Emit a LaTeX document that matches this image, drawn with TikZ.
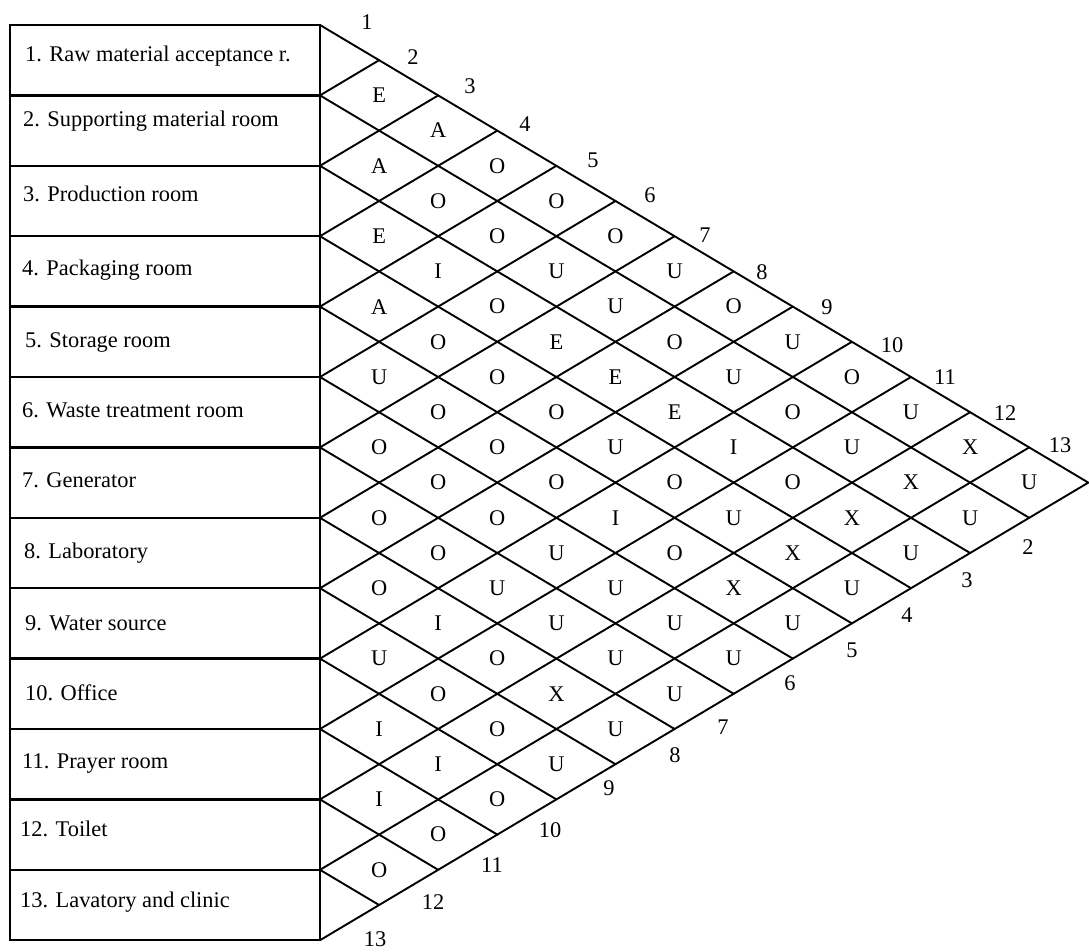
\documentclass[tikz,border=0pt]{standalone}
\usepackage{fontspec}
\setmainfont{Liberation Serif}
\begin{document}
\begin{tikzpicture}[x=1pt,y=-1pt,
  font=\fontsize{22.4}{27}\selectfont,
  grid/.style={line width=1.9pt, line cap=round, line join=miter},
  boxline/.style={draw, line width=2.3pt},
  rel/.style={inner sep=0pt, anchor=center},
  num/.style={inner sep=0pt, anchor=center},
  dept/.style={inner sep=0pt, anchor=base west}]
\useasboundingbox (0,0) rectangle (1089,951);
\foreach \k in {0,...,13} {
  \coordinate (L\k) at (320, 25+70.4*\k);
  \coordinate (T\k) at (320+59.1*\k, 25+35.2*\k);
  \coordinate (B\k) at (320+59.1*\k, 940.2-35.2*\k);
}
% department boxes
\foreach \k in {0,...,12} {
  \pgfmathtruncatemacro\n{\k+1}
  \draw[boxline] (10, 25+70.4*\k) rectangle (L\n);
}
% department names
\foreach \i/\x/\y/\t in {
  1/25/61/{1. Raw material acceptance r.},
  2/23/126/{2. Supporting material room},
  3/23/201/{3. Production room},
  4/22/275/{4. Packaging room},
  5/25/347/{5. Storage room},
  6/22/417/{6. Waste treatment room},
  7/22/487/{7. Generator},
  8/24/558/{8. Laboratory},
  9/25/630/{9. Water source},
  10/25/700/{10. Office},
  11/22/768/{11. Prayer room},
  12/20/836/{12. Toilet},
  13/20/907/{13. Lavatory and clinic}} {
  \node[dept] (d\i) at (\x,\y) {\t};
}
% triangle outline and grid
\draw[grid] (T0) -- (T13) -- (B0);
\foreach \k in {1,...,12} {
  \pgfmathtruncatemacro\m{13-\k}
  \draw[grid] (T\k) -- (L\k) -- (B\m);
}
% relationship letters
\foreach \i/\j/\c in {
  1/2/E,1/3/A,1/4/O,1/5/O,1/6/O,1/7/U,1/8/O,1/9/U,1/10/O,1/11/U,1/12/X,1/13/U,
  2/3/A,2/4/O,2/5/O,2/6/U,2/7/U,2/8/O,2/9/U,2/10/O,2/11/U,2/12/X,2/13/U,
  3/4/E,3/5/I,3/6/O,3/7/E,3/8/E,3/9/E,3/10/I,3/11/O,3/12/X,3/13/U,
  4/5/A,4/6/O,4/7/O,4/8/O,4/9/U,4/10/O,4/11/U,4/12/X,4/13/U,
  5/6/U,5/7/O,5/8/O,5/9/O,5/10/I,5/11/O,5/12/X,5/13/U,
  6/7/O,6/8/O,6/9/O,6/10/U,6/11/U,6/12/U,6/13/U,
  7/8/O,7/9/O,7/10/U,7/11/U,7/12/U,7/13/U,
  8/9/O,8/10/I,8/11/O,8/12/X,8/13/U,
  9/10/U,9/11/O,9/12/O,9/13/U,
  10/11/I,10/12/I,10/13/O,
  11/12/I,11/13/O,
  12/13/O} {
  \node[rel] (r\i-\j) at (320+59.1*\j-59.1*\i, 25+35.2*\i+35.2*\j-35.2) {\c};
}
% numbers along the upper edge
\foreach \n/\x/\y in {1/367/22,2/413/57,3/470/86,4/525/124,5/593/160,6/650/195,
  7/705/235,8/762/272,9/827/307,10/892/345,11/945/377,12/1005/413,13/1060/445} {
  \node[num] (t\n) at (\x,\y) {\n};
}
% numbers along the lower edge
\foreach \n/\x/\y in {2/1028/547,3/967/580,4/907/615,5/852/650,6/790/683,
  7/723/727,8/675/755,9/609/788,10/550/830,11/492/865,12/433/902,13/375/939} {
  \node[num] (b\n) at (\x,\y) {\n};
}
\end{tikzpicture}
\end{document}
